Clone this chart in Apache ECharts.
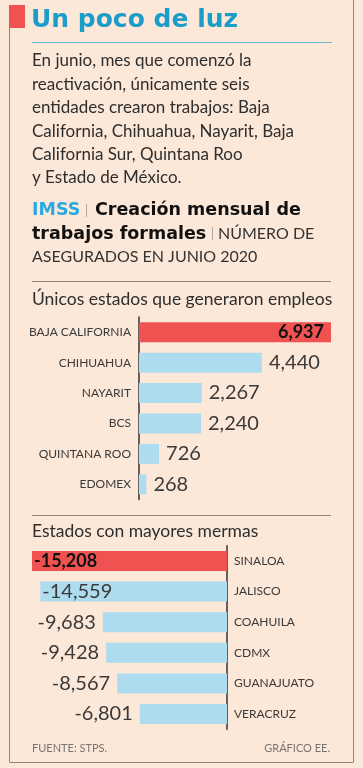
<!DOCTYPE html>
<html><head><meta charset="utf-8">
<script src="https://cdn.jsdelivr.net/npm/echarts@6/dist/echarts.min.js"></script>
<style>html,body{margin:0;padding:0;background:#fce8d8;}#c{width:363px;height:768px;}</style>
</head><body><div id="c"></div>
<script>
const gainStates = ['BAJA CALIFORNIA','CHIHUAHUA','NAYARIT','BCS','QUINTANA ROO','EDOMEX'];
const gainValues = [6937, 4440, 2267, 2240, 726, 268];
const lossStates = ['SINALOA','JALISCO','COAHUILA','CDMX','GUANAJUATO','VERACRUZ'];
const lossValues = [-15208, -14559, -9683, -9428, -8567, -6801];
const introLines = ['En junio, mes que comenzó la','reactivación, únicamente seis','entidades crearon trabajos: Baja','California, Chihuahua, Nayarit, Baja','California Sur, Quintana Roo','y Estado de México.'];

const FONT = 'Lato';
const BOLDF = '"DejaVu Sans"';
const RED = '#f05252';
const BLUE = '#aedcef';
const fmt = v => v.toLocaleString('en-US');

const chart = echarts.init(document.getElementById('c'));

function txt(x, y, text, font, fill, align) {
  return {type:'text', style:{x:x, y:y, text:text, font:font, fill:fill, align:align||'left', verticalAlign:'middle'}};
}
function vline(x, y1, y2, color, w) {
  return {type:'line', shape:{x1:x,y1:y1,x2:x,y2:y2}, style:{stroke:color,lineWidth:w||1}};
}

const graphics = [
  {type:'rect', shape:{x:9,y:5,width:16,height:23}, style:{fill:RED}},
  vline(9.5, 28, 762, '#8f857c'),
  vline(353.5, 0, 762, '#8f857c'),
  {type:'line', shape:{x1:9.5,y1:762.5,x2:353.5,y2:762.5}, style:{stroke:'#8f857c',lineWidth:1}},
  txt(31, 20, 'Un poco de luz', 'bold 25px '+BOLDF, '#1a9dc9'),
  {type:'line', shape:{x1:32,y1:42.5,x2:332,y2:42.5}, style:{stroke:'#6cb9cf',lineWidth:1}},
];
introLines.forEach((t,i)=>{
  graphics.push(txt(32, 61 + i*23.4, t, '17px '+FONT, '#2e2e2e'));
});
graphics.push(
  txt(32, 210.5, 'IMSS', 'bold 17.5px '+BOLDF, '#29a9e1'),
  vline(86.5, 204, 217, '#b0a8a2'),
  txt(95, 210.5, 'Creación mensual de', 'bold 17.5px '+BOLDF, '#111'),
  txt(32, 234, 'trabajos formales', 'bold 17.5px '+BOLDF, '#111'),
  vline(212.5, 227, 240, '#b0a8a2'),
  txt(218, 234, 'NÚMERO DE', '16px '+FONT, '#333'),
  txt(32, 256.5, 'ASEGURADOS EN JUNIO 2020', '16px '+FONT, '#333'),
  {type:'line', shape:{x1:32,y1:281.5,x2:331,y2:281.5}, style:{stroke:'#8f857c',lineWidth:1}},
  txt(32, 299, 'Únicos estados que generaron empleos', '17.5px '+FONT, '#2e2e2e'),
  {type:'line', shape:{x1:32,y1:515.5,x2:331,y2:515.5}, style:{stroke:'#8f857c',lineWidth:1}},
  txt(32, 531, 'Estados con mayores mermas', '17.5px '+FONT, '#2e2e2e'),
  txt(32, 748, 'FUENTE: STPS.', '11px '+FONT, '#7a7470'),
  txt(330, 748, 'GRÁFICO EE.', '11px '+FONT, '#7a7470', 'right')
);

const gainData = gainValues.map((v,i)=>({
  value:v,
  itemStyle:{color: i===0 ? RED : BLUE},
  label: i===0
    ? {show:true, position:'insideRight', offset:[-2,0], formatter:fmt(v), color:'#111', fontFamily:FONT, fontWeight:'bold', fontSize:18}
    : {show:true, position:'right', distance:7, formatter:fmt(v), color:'#3a3a3a', fontFamily:FONT, fontSize:20}
}));
const lossData = lossValues.map((v,i)=>({
  value:v,
  itemStyle:{color: i===0 ? RED : BLUE},
  label: i===0
    ? {show:true, position:'insideLeft', distance:2, formatter:fmt(v), color:'#111', fontFamily:FONT, fontWeight:'bold', fontSize:18}
    : (i===1
      ? {show:true, position:'insideLeft', distance:2, formatter:fmt(v), color:'#3a3a3a', fontFamily:FONT, fontSize:20}
      : {show:true, position:'left', distance:7, formatter:fmt(v), color:'#3a3a3a', fontFamily:FONT, fontSize:20})
}));

chart.setOption({
  backgroundColor:'#fce8d8',
  animation:false,
  graphic:graphics,
  grid:[
    {left:139, right:32, top:317, height:182.5, containLabel:false},
    {left:32, right:136, top:545.7, height:183.6, containLabel:false}
  ],
  xAxis:[
    {gridIndex:0, type:'value', min:0, max:6937, show:false},
    {gridIndex:1, type:'value', min:-15208, max:0, show:false}
  ],
  yAxis:[
    {gridIndex:0, type:'category', data:gainStates, inverse:true,
     axisLine:{show:true, lineStyle:{color:'#333', width:1.5}}, axisTick:{show:false},
     axisLabel:{margin:8, color:'#3a3a3a', fontFamily:FONT, fontSize:12}},
    {gridIndex:1, type:'category', data:lossStates, inverse:true, position:'right',
     axisLine:{show:true, onZero:false, lineStyle:{color:'#333', width:1.5}}, axisTick:{show:false},
     axisLabel:{margin:7, color:'#3a3a3a', fontFamily:FONT, fontSize:12}}
  ],
  series:[
    {type:'bar', xAxisIndex:0, yAxisIndex:0, data:gainData, barWidth:20},
    {type:'bar', xAxisIndex:1, yAxisIndex:1, data:lossData, barWidth:20}
  ]
});
</script></body></html>
